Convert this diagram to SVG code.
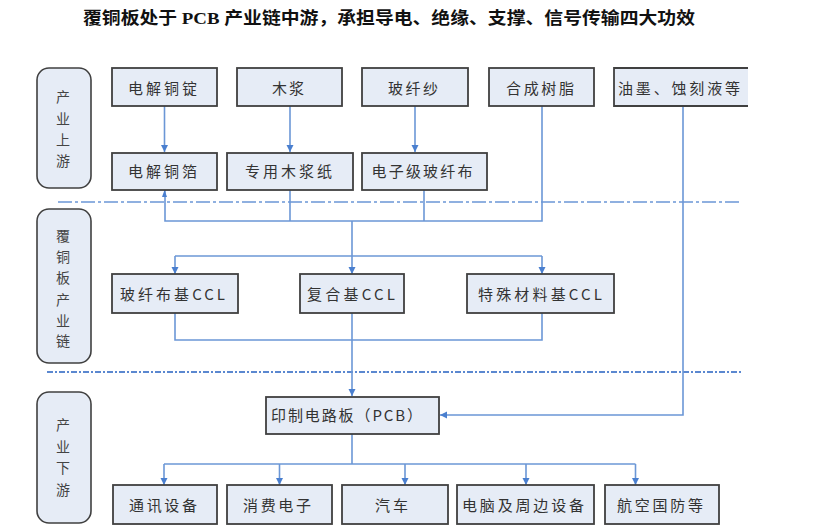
<svg xmlns="http://www.w3.org/2000/svg" width="830" height="526" viewBox="0 0 830 526">
<defs>
<marker id="ah" markerWidth="8" markerHeight="8" refX="7" refY="4" orient="auto" markerUnits="userSpaceOnUse">
<path d="M0,0.5 L7,4 L0,7.5 Z" fill="#4a7fcf"/>
</marker>
</defs>
<style>
.box{fill:#e6ecf6;stroke:#404040;stroke-width:1.8}
.lab{fill:#e6ecf6;stroke:#404040;stroke-width:1.6}
.t{font-family:"Noto Sans CJK SC","Liberation Sans",sans-serif;font-size:15px;fill:#333;text-anchor:middle}
.v{font-family:"Noto Sans CJK SC","Liberation Sans",sans-serif;font-size:14px;fill:#444;text-anchor:middle}
.c{fill:none;stroke:#6b97d6;stroke-width:1.6}
.a{marker-end:url(#ah)}
.d1{fill:none;stroke:#6b97d6;stroke-width:1.5;stroke-dasharray:14 3 3 3}
.d2{fill:none;stroke:#5b88d0;stroke-width:2;stroke-dasharray:6 2 2 2}
.title{font-family:"Liberation Serif","Noto Sans CJK SC",serif;font-size:17px;font-weight:bold;fill:#111}
</style>
<rect width="830" height="526" fill="#fff"/>
<text class="title" x="83" y="24" textLength="612" lengthAdjust="spacingAndGlyphs">覆铜板处于 PCB 产业链中游，承担导电、绝缘、支撑、信号传输四大功效</text>

<g id="stage-labels">
<g id="lab-up"><rect class="lab" x="37" y="68" width="54" height="120" rx="12"/>
<text class="v" x="63" y="102">产</text><text class="v" x="63" y="124">业</text><text class="v" x="63" y="145">上</text><text class="v" x="63" y="166">游</text></g>
<g id="lab-mid"><rect class="lab" x="37" y="209" width="54" height="154" rx="12"/>
<text class="v" x="63" y="241">覆</text><text class="v" x="63" y="262">铜</text><text class="v" x="63" y="283">板</text><text class="v" x="63" y="305">产</text><text class="v" x="63" y="326">业</text><text class="v" x="63" y="346">链</text></g>
<g id="lab-down"><rect class="lab" x="37" y="392" width="54" height="131" rx="12"/>
<text class="v" x="63" y="430">产</text><text class="v" x="63" y="452">业</text><text class="v" x="63" y="473">下</text><text class="v" x="63" y="495">游</text></g>
</g>

<g id="connectors">
<line class="d1" x1="58" y1="202" x2="741" y2="202"/>
<line class="d2" x1="47" y1="372" x2="741" y2="372"/>
<line class="c a" x1="164.5" y1="106" x2="164.5" y2="152"/>
<line class="c a" x1="290" y1="106" x2="290" y2="152"/>
<line class="c a" x1="415" y1="106" x2="415" y2="152"/>
<path class="c" d="M542,106 V221 H165 V190"/>
<path d="M162,197 L164.5,190 L167,197 Z" fill="#4a7fcf"/>
<line class="c" x1="290" y1="190" x2="290" y2="221"/>
<line class="c" x1="424" y1="190" x2="424" y2="221"/>
<line class="c a" x1="352" y1="221" x2="352" y2="274"/>
<path class="c a" d="M175,256 V274"/>
<path class="c" d="M175,256 H542"/>
<path class="c a" d="M542,256 V274"/>
<path class="c" d="M175,313 V340 H542 V313"/>
<line class="c a" x1="352" y1="313" x2="352" y2="396"/>
<path class="c a" d="M683,106 V415 H440"/>
<line class="c" x1="352" y1="434" x2="352" y2="464"/>
<path class="c" d="M164,464 H635.5"/>
<line class="c a" x1="164" y1="464" x2="164" y2="485"/>
<line class="c a" x1="279.5" y1="464" x2="279.5" y2="485"/>
<line class="c a" x1="405" y1="464" x2="405" y2="485"/>
<line class="c a" x1="526" y1="464" x2="526" y2="485"/>
<line class="c a" x1="635.5" y1="464" x2="635.5" y2="485"/>
</g>

<g id="n-tongding"><rect class="box" x="112" y="68" width="105" height="38"/><text class="t" x="162.5" y="94" textLength="69" lengthAdjust="spacing">电解铜锭</text></g>
<g id="n-mujiang"><rect class="box" x="237" y="68" width="105" height="38"/><text class="t" x="288" y="94" textLength="32" lengthAdjust="spacing">木浆</text></g>
<g id="n-boxiansha"><rect class="box" x="362" y="68" width="106" height="38"/><text class="t" x="413" y="94" textLength="50" lengthAdjust="spacing">玻纤纱</text></g>
<g id="n-shuzhi"><rect class="box" x="489" y="68" width="105" height="38"/><text class="t" x="540" y="94" textLength="68" lengthAdjust="spacing">合成树脂</text></g>
<g id="n-youmo"><rect x="614" y="68" width="134" height="38" fill="#e6ecf6"/><path d="M748,68 H614 V106 H748" fill="none" stroke="#404040" stroke-width="1.8"/><text class="t" x="679" y="94" textLength="122" lengthAdjust="spacing">油墨、蚀刻液等</text></g>

<g id="n-tongbo"><rect class="box" x="112" y="153" width="105" height="37"/><text class="t" x="162.5" y="177" textLength="69" lengthAdjust="spacing">电解铜箔</text></g>
<g id="n-mujiangzhi"><rect class="box" x="227" y="153" width="126" height="37"/><text class="t" x="288.5" y="177" textLength="87" lengthAdjust="spacing">专用木浆纸</text></g>
<g id="n-boxianbu"><rect class="box" x="362" y="153" width="125" height="37"/><text class="t" x="422" y="177" textLength="101" lengthAdjust="spacing">电子级玻纤布</text></g>

<g id="n-ccl1"><rect class="box" x="112" y="274" width="126" height="39"/><text class="t" x="172.5" y="300" textLength="105" lengthAdjust="spacing">玻纤布基CCL</text></g>
<g id="n-ccl2"><rect class="box" x="300" y="274" width="104" height="39"/><text class="t" x="351" y="300" textLength="88" lengthAdjust="spacing">复合基CCL</text></g>
<g id="n-ccl3"><rect class="box" x="467" y="274" width="147" height="39"/><text class="t" x="540" y="300" textLength="124" lengthAdjust="spacing">特殊材料基CCL</text></g>

<g id="n-pcb"><rect class="box" x="266" y="397" width="173" height="37"/><text class="t" x="346.5" y="421" textLength="151" lengthAdjust="spacing">印制电路板（PCB）</text></g>

<g id="n-tongxun"><rect class="box" x="113" y="485" width="104" height="39"/><text class="t" x="163" y="511" textLength="68" lengthAdjust="spacing">通讯设备</text></g>
<g id="n-xiaofei"><rect class="box" x="227" y="485" width="105" height="39"/><text class="t" x="277" y="511" textLength="68" lengthAdjust="spacing">消费电子</text></g>
<g id="n-qiche"><rect class="box" x="342" y="485" width="106" height="39"/><text class="t" x="391.5" y="511" textLength="33" lengthAdjust="spacing">汽车</text></g>
<g id="n-diannao"><rect class="box" x="457" y="485" width="137" height="39"/><text class="t" x="523" y="511" textLength="122" lengthAdjust="spacing">电脑及周边设备</text></g>
<g id="n-hangkong"><rect class="box" x="605" y="485" width="114" height="39"/><text class="t" x="660" y="511" textLength="86" lengthAdjust="spacing">航空国防等</text></g>
</svg>
